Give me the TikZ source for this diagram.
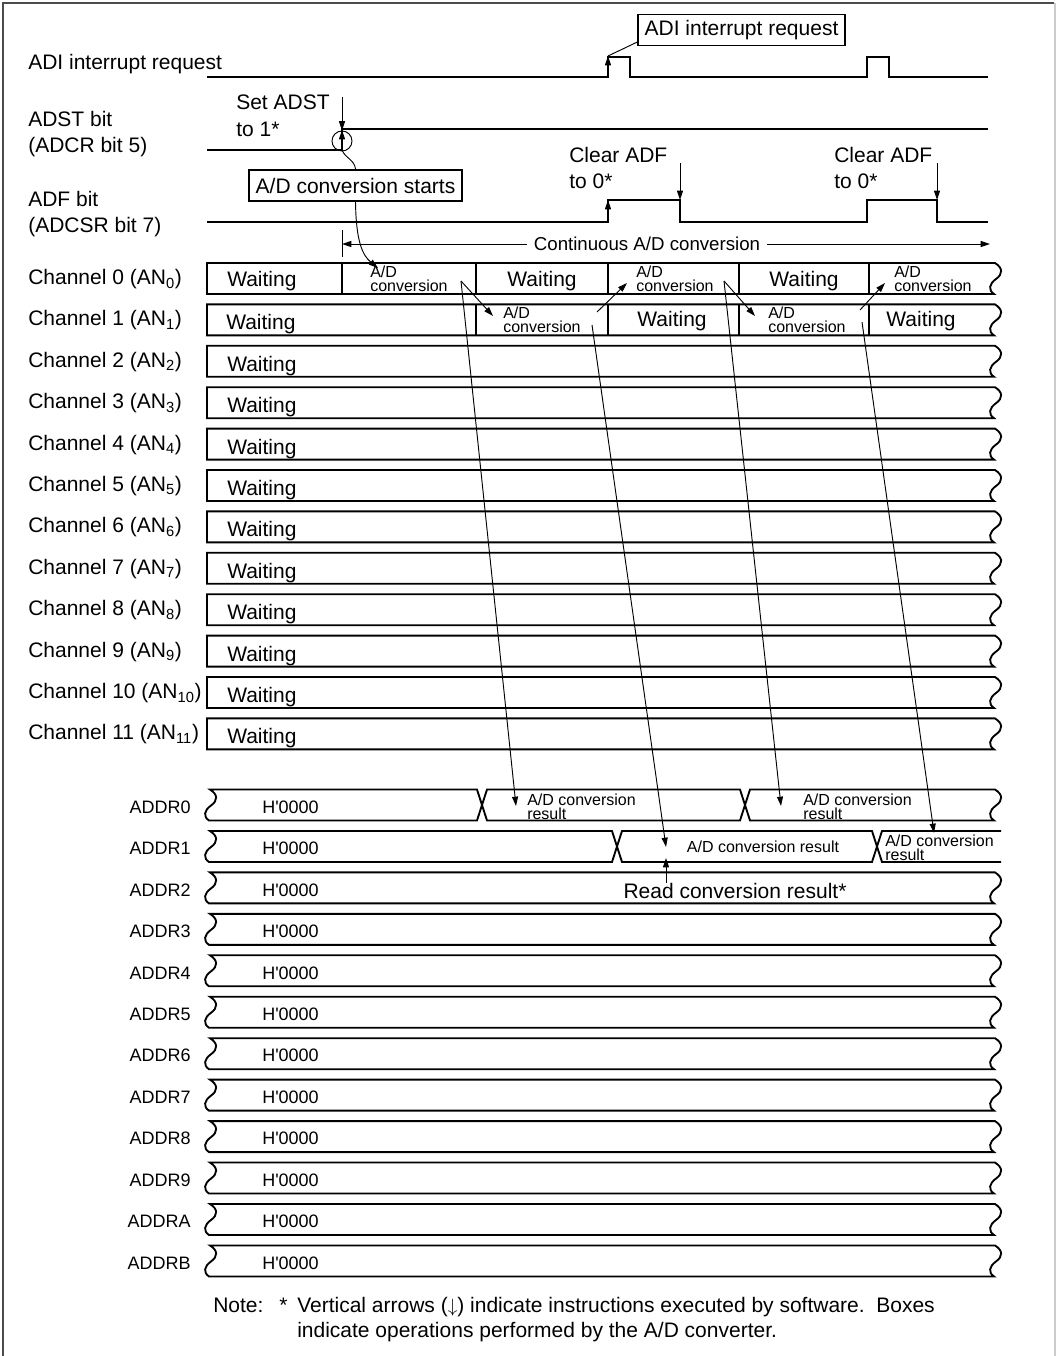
\documentclass[tikz,border=0pt]{standalone}
\usepackage{fontspec}
\setmainfont{Liberation Sans}
\usepackage{tikz}
\usetikzlibrary{arrows.meta}

\begin{document}
\begin{tikzpicture}[
  x=0.75pt, y=-0.75pt,
  lbl/.style={inner sep=0pt, font=\fontsize{15.75}{20}\selectfont, align=left},
  small/.style={inner sep=0pt, font=\fontsize{12}{10.5}\selectfont, align=left},
  reg/.style={inner sep=0pt, font=\fontsize{13.5}{16}\selectfont},
  sig/.style={line width=1.4pt, line join=miter},
  box/.style={line width=1.4pt},
  callout/.style={draw, line width=1.1pt, inner xsep=5pt, inner ysep=0pt,
    minimum height=23pt, font=\fontsize{15.75}{20}\selectfont},
  leader/.style={line width=0.7pt},
  arrow/.style={-{Triangle[length=7pt,width=4.5pt]}, line width=0.7pt}
]
\useasboundingbox (0,0) rectangle (1058,1356);

% ---- Frame ----
\draw[line width=1.2pt, black!70] (3,1356) -- (3,3) -- (1054,3);
\draw[line width=0.8pt, black!20] (1055,3) -- (1055,1356);

% ---- ADI interrupt request ----
\node[lbl, anchor=west] (adi) at (28,64) {ADI interrupt request};
\draw[sig] (207,77) -- (608,77) -- (608,57) -- (630,57) -- (630,77)
  -- (867,77) -- (867,57) -- (889,57) -- (889,77) -- (988,77);
\coordinate (adilow)  at (608,77);
\coordinate (adihigh) at (608,56);
\draw[arrow] (adilow) -- (adihigh);
\node[callout] (adibox) at (741.5,30) {ADI interrupt request};
\draw[leader] ([yshift=3pt]adibox.south west) -- (adihigh);

% ---- ADST bit ----
\node[lbl, anchor=west] (adst) at (28,134) {ADST bit\\(ADCR bit 5)};
\draw[sig] (207,150) -- (342,150) -- (342,129) -- (988,129);
\coordinate (adstlow)  at (342,150);
\coordinate (adsthigh) at (342,130);
\draw[arrow] (adstlow) -- (adsthigh);
\node[circle, draw, line width=0.7pt, minimum size=15pt, inner sep=0pt] (adstc) at (342,141) {};
\node[lbl, anchor=west] (setadst) at (236,116) {Set ADST\\to 1*};
\coordinate (setadsttop) at (342,97);
\draw[arrow] (setadsttop) -- (adstc.north);

% ---- ADF bit ----
\node[lbl, anchor=west] (adf) at (28,214) {ADF bit\\(ADCSR bit 7)};
\draw[sig] (207,222) -- (608,222) -- (608,200) -- (680,200) -- (680,222)
  -- (867,222) -- (867,200) -- (937,200) -- (937,222) -- (988,222);
\coordinate (adflow)  at (608,222);
\coordinate (adfhigh) at (608,200);
\draw[arrow] (adflow) -- (adfhigh);
\node[lbl, anchor=west] (clear1) at (569,168) {Clear ADF\\to 0*};
\node[lbl, anchor=west] (clear2) at (834,168) {Clear ADF\\to 0*};
\coordinate (clr1top) at (680,163);
\coordinate (clr1bot) at (680,200);
\coordinate (clr2top) at (937,163);
\coordinate (clr2bot) at (937,200);
\draw[arrow] (clr1top) -- (clr1bot);
\draw[arrow] (clr2top) -- (clr2bot);

% ---- A/D conversion starts ----
\node[callout] (starts) at (355.5,185.5) {A/D conversion starts};
\coordinate (c0start) at (378,268);
\draw[leader] (starts.north) .. controls (355,160) and (345,158) .. (adstlow);
\draw[arrow] (starts.south) .. controls (356,240) and (362,255) .. (c0start);

% ---- Continuous A/D conversion ----
\coordinate (ticktop) at (342,230);
\coordinate (tickbot) at (342,257);
\coordinate (cstart)  at (342,244);
\coordinate (cend)    at (990,244);
\draw[leader] (ticktop) -- (tickbot);
\node[inner xsep=5pt, inner ysep=0pt, font=\fontsize{14}{16}\selectfont] (cont) at (647,244) {Continuous A/D conversion};
\draw[arrow] (cont.west) -- (cstart);
\draw[arrow] (cont.east) -- (cend);

% ---- Channels ----
\foreach \i in {0,...,11} {
  \pgfmathsetmacro{\rowtop}{263+41.4*\i}
  \pgfmathsetmacro{\rowbot}{\rowtop+31}
  \draw[box] (207,\rowtop) -- (995,\rowtop)
    .. controls (1003,\rowtop+5) and (1003,\rowtop+11) .. (996,\rowtop+16)
    .. controls (989,\rowtop+21) and (988,\rowtop+27) .. (994,\rowbot)
    -- (207,\rowbot) -- cycle;
  \node[lbl, anchor=west] (ch\i) at (28,\rowtop+16) {Channel \i\ (AN\textsubscript{\i})};
}
\foreach \i in {2,...,11} {
  \pgfmathsetmacro{\rowtop}{263+41.4*\i}
  \node[lbl, anchor=west] (wait\i) at (227,\rowtop+20) {Waiting};
}
\foreach \x in {342,476,608,739,869} \draw[box] (\x,263) -- (\x,294);
\foreach \x in {476,608,739,869} \draw[box] (\x,304.4) -- (\x,335.4);

% channel 0
\node[lbl, anchor=west]   (w00)  at (227,281) {Waiting};
\node[small, anchor=west] (cv01) at (370,279) {A/D\\conversion};
\node[lbl]                (w02)  at (542,281) {Waiting};
\node[small, anchor=west] (cv03) at (636,279) {A/D\\conversion};
\node[lbl]                (w04)  at (804,281) {Waiting};
\node[small, anchor=west] (cv05) at (894,279) {A/D\\conversion};
% channel 1
\node[lbl, anchor=west]   (w10)  at (226,324) {Waiting};
\node[small, anchor=west] (cv11) at (503,320) {A/D\\conversion};
\node[lbl]                (w12)  at (672,321) {Waiting};
\node[small, anchor=west] (cv13) at (768,320) {A/D\\conversion};
\node[lbl]                (w14)  at (921,321) {Waiting};

% ---- Data registers ----
\foreach \r [count=\i from 0] in {0,1,2,3,4,5,6,7,8,9,A,B} {
  \pgfmathsetmacro{\regmid}{805+41.45*\i}
  \node[reg, anchor=east] (addr\r) at (191,\regmid+2) {ADDR\r};
  \node[reg, anchor=west] (val\r)  at (262,\regmid+2) {H\textquotesingle 0000};
}
\foreach \i in {2,...,11} {
  \pgfmathsetmacro{\regtop}{805+41.45*\i-15.5}
  \pgfmathsetmacro{\regbot}{\regtop+31}
  \draw[box] (210,\regtop) -- (995,\regtop)
    .. controls (1003,\regtop+5) and (1003,\regtop+11) .. (996,\regtop+16)
    .. controls (989,\regtop+21) and (988,\regtop+27) .. (994,\regbot)
    -- (209,\regbot)
    .. controls (203,\regbot-4) and (204,\regbot-10) .. (211,\regbot-15)
    .. controls (218,\regbot-20) and (218,\regbot-26) .. (210,\regtop) -- cycle;
}
% ADDR0
\draw[box] (210,789.5) -- (477,789.5) -- (487,820.5) -- (740,820.5) -- (750,789.5) -- (995,789.5)
  .. controls (1003,794.5) and (1003,800.5) .. (996,805.5)
  .. controls (989,810.5) and (988,816.5) .. (994,820.5)
  -- (750,820.5) -- (740,789.5) -- (487,789.5) -- (477,820.5) -- (209,820.5)
  .. controls (203,816.5) and (204,810.5) .. (211,805.5)
  .. controls (218,800.5) and (218,794.5) .. (210,789.5) -- cycle;
% ADDR1
\draw[box] (1001,831) -- (882,831) -- (872,862) -- (622,862) -- (612,831) -- (210,831)
  .. controls (218,836) and (218,842) .. (211,847)
  .. controls (204,852) and (203,858) .. (209,862)
  -- (612,862) -- (622,831) -- (872,831) -- (882,862) -- (1001,862);

\node[small, anchor=west] (res0a) at (527,806.5) {A/D conversion\\result};
\node[small, anchor=west] (res0b) at (803,806.5) {A/D conversion\\result};
\node[small]              (res1b) at (763,847)   {A/D conversion result};
\node[small, anchor=west] (res1c) at (885,848)   {A/D conversion\\result};
\node[lbl]                (readres) at (735,891) {Read conversion result*};

\coordinate (r0a) at (516,806);
\coordinate (r0b) at (781,806);
\coordinate (r1b) at (666,847);
\coordinate (r1c) at (934,833);
\coordinate (r1read) at (666,858);

% ---- Arrows ----
\coordinate (p0a) at (461,281);
\coordinate (p1a) at (493,316);
\coordinate (p1b) at (597,312);
\coordinate (p0b) at (627,283);
\coordinate (p0c) at (724,281);
\coordinate (p1c) at (755,316);
\coordinate (p1d) at (860,310);
\coordinate (p0d) at (885,283);
\coordinate (q1a) at (592,325);
\coordinate (q1c) at (862,322);

\draw[arrow] (p0a) -- (p1a);
\draw[arrow] (p1b) -- (p0b);
\draw[arrow] (p0c) -- (p1c);
\draw[arrow] (p1d) -- (p0d);
\draw[arrow] (p0a) -- (r0a);
\draw[arrow] (q1a) -- (r1b);
\draw[arrow] (p0c) -- (r0b);
\draw[arrow] (q1c) -- (r1c);
\draw[arrow] (readres.north -| r1read) -- (r1read);

% ---- Note ----
\node[lbl, anchor=base west] (note)      at (213,1312) {Note:};
\node[lbl, anchor=base west] (noteast)   at (279,1312) {*};
\node[lbl, anchor=base west] (noteline1) at (297,1312) {Vertical arrows ($\downarrow$) indicate instructions executed by software.\ \ Boxes};
\node[lbl, anchor=base west] (noteline2) at (297,1337) {indicate operations performed by the A/D converter.};

\end{tikzpicture}
\end{document}
